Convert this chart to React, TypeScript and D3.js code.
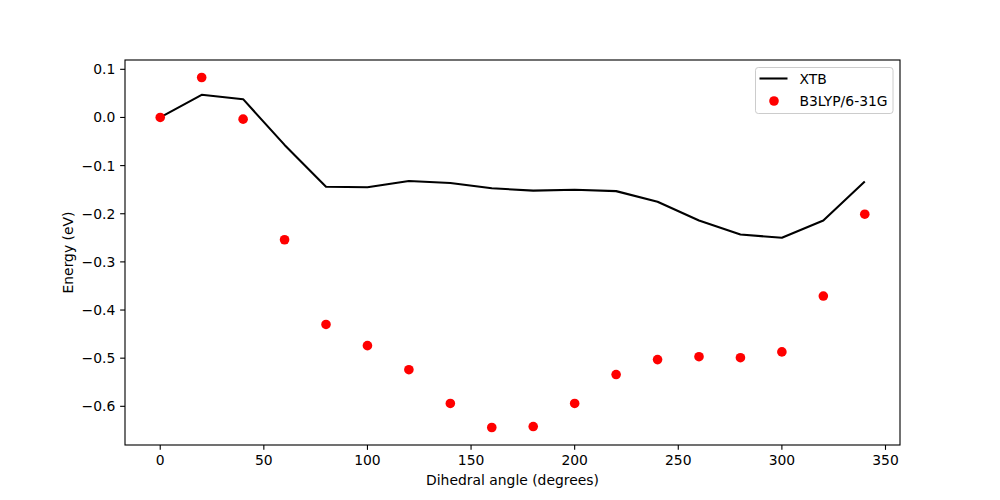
import React, { useEffect, useRef } from "react";
import * as d3 from "d3";

const angles = [0, 20, 40, 60, 80, 100, 120, 140, 160, 180, 200, 220, 240, 260, 280, 300, 320, 340];
const xtb = [0, 0.047, 0.038, -0.057, -0.144, -0.145, -0.132, -0.136, -0.147, -0.152, -0.15, -0.153, -0.175, -0.214, -0.243, -0.25, -0.214, -0.133];
const b3lyp = [0, 0.083, -0.0035, -0.254, -0.43, -0.474, -0.524, -0.594, -0.644, -0.642, -0.594, -0.534, -0.503, -0.497, -0.499, -0.487, -0.371, -0.201];
const xTicks = [0, 50, 100, 150, 200, 250, 300, 350];
const yTicks = [0.1, 0.0, -0.1, -0.2, -0.3, -0.4, -0.5, -0.6];
const seriesNames = ["XTB", "B3LYP/6-31G"];

export default function App() {
  const ref = useRef<SVGSVGElement>(null);
  useEffect(() => {
    const W = 1000, H = 500;
    const L = 125, R = 900, T = 60, B = 445;
    const svg = d3.select(ref.current);
    svg.selectAll("*").remove();
    const font = "DejaVu Sans, sans-serif";
    const fs = 13.9;

    const xmin = d3.min(angles)!, xmax = d3.max(angles)!;
    const xpad = (xmax - xmin) * 0.05;
    const allY = xtb.concat(b3lyp);
    const ymin = d3.min(allY)!, ymax = d3.max(allY)!;
    const ypad = (ymax - ymin) * 0.05;
    const x = d3.scaleLinear().domain([xmin - xpad, xmax + xpad]).range([L, R]);
    const y = d3.scaleLinear().domain([ymin - ypad, ymax + ypad]).range([B, T]);

    svg.append("rect").attr("width", W).attr("height", H).attr("fill", "white");

    const line = d3.line<number>().x((_, i) => x(angles[i])).y((d) => y(d));
    svg.append("path").datum(xtb).attr("d", line).attr("fill", "none")
      .attr("stroke", "black").attr("stroke-width", 2.08).attr("stroke-linejoin", "round").attr("stroke-linecap", "butt");

    svg.append("g").selectAll("circle").data(b3lyp).enter().append("circle")
      .attr("cx", (_, i) => x(angles[i])).attr("cy", (d) => y(d)).attr("r", 4.8).attr("fill", "red");

    // spines
    svg.append("rect").attr("x", L).attr("y", T).attr("width", R - L).attr("height", B - T)
      .attr("fill", "none").attr("stroke", "black").attr("stroke-width", 1.11);

    const fmtY = (v: number) => (v < 0 ? "\u2212" : "") + Math.abs(v).toFixed(1);
    const gx = svg.append("g");
    xTicks.forEach((t) => {
      gx.append("line").attr("x1", x(t)).attr("x2", x(t)).attr("y1", B).attr("y2", B + 4.86)
        .attr("stroke", "black").attr("stroke-width", 1.11);
      gx.append("text").attr("x", x(t)).attr("y", B + 4.86 + 4.86 + fs * 0.76)
        .attr("text-anchor", "middle").attr("font-family", font).attr("font-size", fs).text(String(t));
    });
    const gy = svg.append("g");
    yTicks.forEach((t) => {
      gy.append("line").attr("x1", L - 4.86).attr("x2", L).attr("y1", y(t)).attr("y2", y(t))
        .attr("stroke", "black").attr("stroke-width", 1.11);
      gy.append("text").attr("x", L - 4.86 - 4.86).attr("y", y(t)).attr("dy", "0.36em")
        .attr("text-anchor", "end").attr("font-family", font).attr("font-size", fs).text(fmtY(t));
    });

    svg.append("text").attr("x", (L + R) / 2).attr("y", 485).attr("text-anchor", "middle")
      .attr("font-family", font).attr("font-size", fs).text("Dihedral angle (degrees)");
    svg.append("text").attr("transform", `translate(73,${(T + B) / 2}) rotate(-90)`).attr("text-anchor", "middle")
      .attr("font-family", font).attr("font-size", fs).text("Energy (eV)");

    // legend
    const lg = svg.append("g");
    lg.append("rect").attr("x", 755.5).attr("y", 67.5).attr("width", 137.5).attr("height", 46).attr("rx", 2.8)
      .attr("fill", "white").attr("fill-opacity", 0.8).attr("stroke", "#cccccc").attr("stroke-width", 1);
    lg.append("line").attr("x1", 759.5).attr("x2", 787.5).attr("y1", 78.5).attr("y2", 78.5)
      .attr("stroke", "black").attr("stroke-width", 2.08);
    lg.append("text").attr("x", 799.5).attr("y", 78.5).attr("dy", "0.36em").attr("font-family", font)
      .attr("font-size", fs).text(seriesNames[0]);
    lg.append("circle").attr("cx", 774).attr("cy", 101).attr("r", 4.8).attr("fill", "red");
    lg.append("text").attr("x", 799.5).attr("y", 100.5).attr("dy", "0.36em").attr("font-family", font)
      .attr("font-size", fs).text(seriesNames[1]);
  }, []);
  return (
    <svg ref={ref} width={1000} height={500} style={{ position: "absolute", left: 0, top: 0, display: "block" }} />
  );
}
